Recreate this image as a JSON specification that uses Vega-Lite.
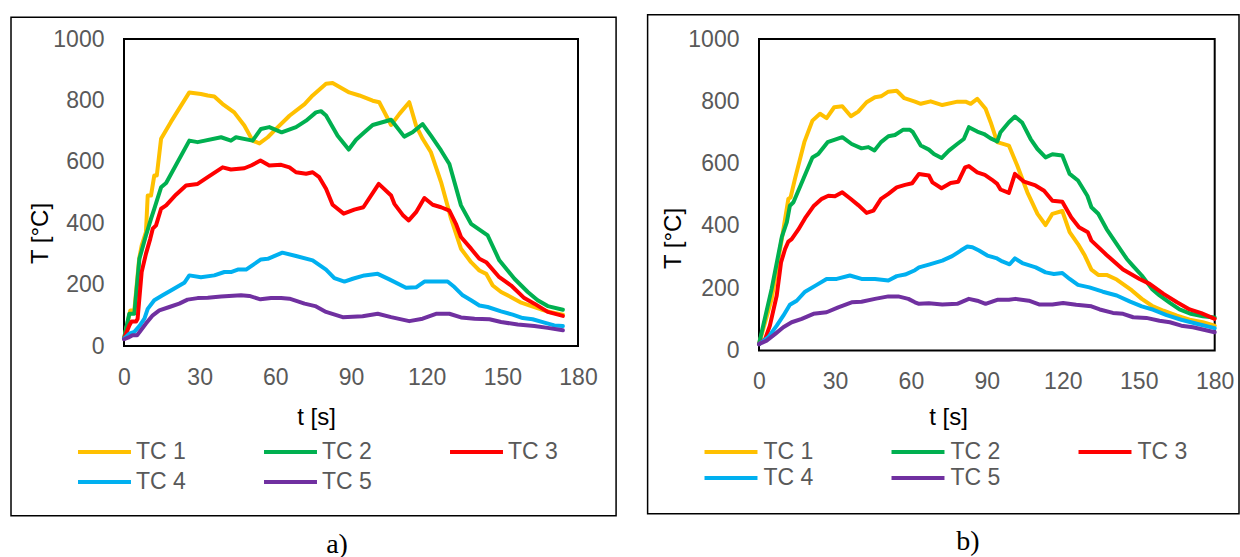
{
  "$schema": "https://vega.github.io/schema/vega-lite/v6.json",
  "background": "white",
  "padding": {"left": 9, "top": 12, "right": 0, "bottom": 0},
  "bounds": "flush",
  "spacing": 181,
  "config": {
    "font": "Liberation Sans",
    "view": {"stroke": "black", "strokeWidth": 2},
    "axis": {"grid": false, "domain": false, "ticks": false, "labelFlush": false, "labelOverlap": false, "format": "d", "labelFont": "Liberation Sans", "labelFontSize": 23, "labelColor": "#595959", "labelPadding": 20, "titleFont": "Liberation Sans", "titleFontSize": 24, "titleFontWeight": "normal", "titleColor": "black"},
    "legend": {"labelFont": "Liberation Sans", "labelFontSize": 23, "labelColor": "#595959", "symbolType": "M-2.5,0H2.5", "symbolSize": 449, "symbolStrokeWidth": 4, "padding": 0, "direction": "horizontal", "columns": 3},
    "title": {"font": "Liberation Serif", "fontSize": 28, "fontWeight": "normal", "color": "black"}
  },
  "datasets": {
    "a": [
      {"s":"TC 1","t":0,"T":24},{"s":"TC 1","t":2.5,"T":116},{"s":"TC 1","t":4.1,"T":116},{"s":"TC 1","t":6,"T":284},{"s":"TC 1","t":7,"T":327},{"s":"TC 1","t":8.7,"T":371},{"s":"TC 1","t":9.4,"T":490},{"s":"TC 1","t":10.7,"T":490},{"s":"TC 1","t":12,"T":555},{"s":"TC 1","t":13,"T":555},{"s":"TC 1","t":14.7,"T":675},{"s":"TC 1","t":18.6,"T":730},{"s":"TC 1","t":25.9,"T":826},{"s":"TC 1","t":30.5,"T":821},{"s":"TC 1","t":33.2,"T":816},{"s":"TC 1","t":35.8,"T":813},{"s":"TC 1","t":39,"T":789},{"s":"TC 1","t":43.7,"T":761},{"s":"TC 1","t":47.7,"T":718},{"s":"TC 1","t":51,"T":669},{"s":"TC 1","t":53.7,"T":660},{"s":"TC 1","t":57,"T":680},{"s":"TC 1","t":60.3,"T":707},{"s":"TC 1","t":65.6,"T":750},{"s":"TC 1","t":71.6,"T":788},{"s":"TC 1","t":74.8,"T":816},{"s":"TC 1","t":80.1,"T":854},{"s":"TC 1","t":82.7,"T":857},{"s":"TC 1","t":89.3,"T":826},{"s":"TC 1","t":93.3,"T":816},{"s":"TC 1","t":98.6,"T":799},{"s":"TC 1","t":101.2,"T":794},{"s":"TC 1","t":105.9,"T":720},{"s":"TC 1","t":109.2,"T":756},{"s":"TC 1","t":113.1,"T":794},{"s":"TC 1","t":115.8,"T":718},{"s":"TC 1","t":118.4,"T":675},{"s":"TC 1","t":121.7,"T":631},{"s":"TC 1","t":125.7,"T":534},{"s":"TC 1","t":129.7,"T":414},{"s":"TC 1","t":133.6,"T":317},{"s":"TC 1","t":137.6,"T":273},{"s":"TC 1","t":140.9,"T":246},{"s":"TC 1","t":143.6,"T":235},{"s":"TC 1","t":146.2,"T":197},{"s":"TC 1","t":149.5,"T":176},{"s":"TC 1","t":153.5,"T":159},{"s":"TC 1","t":157.5,"T":141},{"s":"TC 1","t":161.5,"T":130},{"s":"TC 1","t":165.4,"T":119},{"s":"TC 1","t":168.7,"T":111},{"s":"TC 1","t":174,"T":102},
      {"s":"TC 2","t":0,"T":24},{"s":"TC 2","t":2.1,"T":105},{"s":"TC 2","t":4.1,"T":105},{"s":"TC 2","t":6.1,"T":284},{"s":"TC 2","t":8.7,"T":360},{"s":"TC 2","t":10.7,"T":414},{"s":"TC 2","t":12,"T":447},{"s":"TC 2","t":14.7,"T":517},{"s":"TC 2","t":16.7,"T":531},{"s":"TC 2","t":25.9,"T":669},{"s":"TC 2","t":29.2,"T":664},{"s":"TC 2","t":38.5,"T":680},{"s":"TC 2","t":42.4,"T":669},{"s":"TC 2","t":44.4,"T":680},{"s":"TC 2","t":51,"T":669},{"s":"TC 2","t":54.3,"T":707},{"s":"TC 2","t":57.6,"T":713},{"s":"TC 2","t":62.5,"T":696},{"s":"TC 2","t":68.2,"T":713},{"s":"TC 2","t":72.2,"T":734},{"s":"TC 2","t":76.1,"T":761},{"s":"TC 2","t":78.1,"T":765},{"s":"TC 2","t":80.1,"T":751},{"s":"TC 2","t":84.7,"T":685},{"s":"TC 2","t":89.1,"T":640},{"s":"TC 2","t":92,"T":672},{"s":"TC 2","t":95.3,"T":696},{"s":"TC 2","t":98.6,"T":720},{"s":"TC 2","t":105.9,"T":737},{"s":"TC 2","t":111.1,"T":682},{"s":"TC 2","t":114.4,"T":696},{"s":"TC 2","t":118.4,"T":723},{"s":"TC 2","t":121.7,"T":685},{"s":"TC 2","t":125.7,"T":637},{"s":"TC 2","t":129,"T":593},{"s":"TC 2","t":133.6,"T":458},{"s":"TC 2","t":137.6,"T":398},{"s":"TC 2","t":144.2,"T":360},{"s":"TC 2","t":148.8,"T":279},{"s":"TC 2","t":154.8,"T":219},{"s":"TC 2","t":160.1,"T":176},{"s":"TC 2","t":164,"T":149},{"s":"TC 2","t":168,"T":130},{"s":"TC 2","t":174,"T":118},
      {"s":"TC 3","t":0,"T":24},{"s":"TC 3","t":2.1,"T":67},{"s":"TC 3","t":3,"T":80},{"s":"TC 3","t":4.8,"T":80},{"s":"TC 3","t":5.4,"T":89},{"s":"TC 3","t":7,"T":241},{"s":"TC 3","t":8.7,"T":300},{"s":"TC 3","t":10.4,"T":349},{"s":"TC 3","t":11.4,"T":382},{"s":"TC 3","t":12.7,"T":393},{"s":"TC 3","t":14.7,"T":447},{"s":"TC 3","t":16.7,"T":458},{"s":"TC 3","t":20.6,"T":493},{"s":"TC 3","t":24.6,"T":523},{"s":"TC 3","t":29.2,"T":528},{"s":"TC 3","t":33.2,"T":550},{"s":"TC 3","t":39.1,"T":582},{"s":"TC 3","t":42.4,"T":575},{"s":"TC 3","t":47.7,"T":579},{"s":"TC 3","t":50.4,"T":588},{"s":"TC 3","t":54.1,"T":604},{"s":"TC 3","t":57.6,"T":588},{"s":"TC 3","t":62.3,"T":590},{"s":"TC 3","t":65.6,"T":582},{"s":"TC 3","t":68.2,"T":566},{"s":"TC 3","t":72.2,"T":561},{"s":"TC 3","t":74.8,"T":566},{"s":"TC 3","t":77.4,"T":550},{"s":"TC 3","t":80.1,"T":512},{"s":"TC 3","t":82.7,"T":460},{"s":"TC 3","t":87.1,"T":431},{"s":"TC 3","t":91.3,"T":444},{"s":"TC 3","t":94.9,"T":452},{"s":"TC 3","t":101,"T":528},{"s":"TC 3","t":105.9,"T":490},{"s":"TC 3","t":107.2,"T":463},{"s":"TC 3","t":110.5,"T":427},{"s":"TC 3","t":112.9,"T":409},{"s":"TC 3","t":115.8,"T":436},{"s":"TC 3","t":119.1,"T":482},{"s":"TC 3","t":122.4,"T":460},{"s":"TC 3","t":125.7,"T":452},{"s":"TC 3","t":129,"T":441},{"s":"TC 3","t":131.6,"T":398},{"s":"TC 3","t":133.6,"T":355},{"s":"TC 3","t":137.6,"T":317},{"s":"TC 3","t":140.9,"T":284},{"s":"TC 3","t":143.6,"T":273},{"s":"TC 3","t":148.8,"T":224},{"s":"TC 3","t":153.5,"T":197},{"s":"TC 3","t":158.7,"T":156},{"s":"TC 3","t":162.7,"T":138},{"s":"TC 3","t":168,"T":111},{"s":"TC 3","t":174,"T":98},
      {"s":"TC 4","t":0,"T":24},{"s":"TC 4","t":2.1,"T":40},{"s":"TC 4","t":4.1,"T":46},{"s":"TC 4","t":6.1,"T":65},{"s":"TC 4","t":8.1,"T":89},{"s":"TC 4","t":9.4,"T":121},{"s":"TC 4","t":12,"T":149},{"s":"TC 4","t":15.3,"T":165},{"s":"TC 4","t":18.6,"T":181},{"s":"TC 4","t":23.9,"T":206},{"s":"TC 4","t":25.9,"T":230},{"s":"TC 4","t":30.5,"T":224},{"s":"TC 4","t":35.8,"T":230},{"s":"TC 4","t":39.8,"T":241},{"s":"TC 4","t":42.4,"T":241},{"s":"TC 4","t":45.1,"T":249},{"s":"TC 4","t":48.4,"T":249},{"s":"TC 4","t":54.3,"T":282},{"s":"TC 4","t":57,"T":284},{"s":"TC 4","t":62.8,"T":304},{"s":"TC 4","t":68.2,"T":293},{"s":"TC 4","t":74.8,"T":279},{"s":"TC 4","t":80.1,"T":249},{"s":"TC 4","t":83.4,"T":221},{"s":"TC 4","t":87.4,"T":210},{"s":"TC 4","t":90.7,"T":219},{"s":"TC 4","t":95.3,"T":230},{"s":"TC 4","t":100.6,"T":235},{"s":"TC 4","t":105.2,"T":217},{"s":"TC 4","t":111.8,"T":190},{"s":"TC 4","t":115.8,"T":191},{"s":"TC 4","t":119.1,"T":210},{"s":"TC 4","t":128.3,"T":210},{"s":"TC 4","t":131,"T":192},{"s":"TC 4","t":134.3,"T":165},{"s":"TC 4","t":137.6,"T":149},{"s":"TC 4","t":140.9,"T":132},{"s":"TC 4","t":144.2,"T":127},{"s":"TC 4","t":149.5,"T":113},{"s":"TC 4","t":154.1,"T":102},{"s":"TC 4","t":158.1,"T":91},{"s":"TC 4","t":162,"T":87},{"s":"TC 4","t":166.7,"T":76},{"s":"TC 4","t":170.6,"T":67},{"s":"TC 4","t":174,"T":65},
      {"s":"TC 5","t":0,"T":22},{"s":"TC 5","t":2.1,"T":29},{"s":"TC 5","t":3.4,"T":35},{"s":"TC 5","t":5.2,"T":35},{"s":"TC 5","t":6.7,"T":51},{"s":"TC 5","t":8.7,"T":73},{"s":"TC 5","t":11.4,"T":100},{"s":"TC 5","t":14,"T":116},{"s":"TC 5","t":18,"T":127},{"s":"TC 5","t":21.9,"T":138},{"s":"TC 5","t":25.2,"T":151},{"s":"TC 5","t":29.2,"T":156},{"s":"TC 5","t":33.2,"T":157},{"s":"TC 5","t":38.5,"T":161},{"s":"TC 5","t":46.4,"T":165},{"s":"TC 5","t":49.7,"T":163},{"s":"TC 5","t":54.1,"T":152},{"s":"TC 5","t":58.3,"T":156},{"s":"TC 5","t":62.3,"T":156},{"s":"TC 5","t":65.6,"T":154},{"s":"TC 5","t":71.6,"T":138},{"s":"TC 5","t":75.8,"T":130},{"s":"TC 5","t":80.1,"T":111},{"s":"TC 5","t":86.7,"T":94},{"s":"TC 5","t":94.6,"T":97},{"s":"TC 5","t":100.6,"T":105},{"s":"TC 5","t":105.9,"T":94},{"s":"TC 5","t":113.1,"T":81},{"s":"TC 5","t":118.4,"T":89},{"s":"TC 5","t":123.7,"T":105},{"s":"TC 5","t":129,"T":105},{"s":"TC 5","t":133.6,"T":93},{"s":"TC 5","t":139,"T":89},{"s":"TC 5","t":144.9,"T":87},{"s":"TC 5","t":149.5,"T":78},{"s":"TC 5","t":156.1,"T":70},{"s":"TC 5","t":162.7,"T":65},{"s":"TC 5","t":168,"T":59},{"s":"TC 5","t":174,"T":51}
    ],
    "b": [
      {"s":"TC 1","t":0,"T":21},{"s":"TC 1","t":5,"T":166},{"s":"TC 1","t":9,"T":358},{"s":"TC 1","t":11.6,"T":487},{"s":"TC 1","t":12.5,"T":492},{"s":"TC 1","t":14.2,"T":551},{"s":"TC 1","t":17.9,"T":669},{"s":"TC 1","t":21.1,"T":738},{"s":"TC 1","t":24.1,"T":760},{"s":"TC 1","t":26.7,"T":746},{"s":"TC 1","t":29.7,"T":781},{"s":"TC 1","t":32.9,"T":784},{"s":"TC 1","t":36.3,"T":752},{"s":"TC 1","t":39.2,"T":767},{"s":"TC 1","t":42.5,"T":797},{"s":"TC 1","t":45.8,"T":813},{"s":"TC 1","t":48.2,"T":816},{"s":"TC 1","t":51.1,"T":831},{"s":"TC 1","t":54.4,"T":834},{"s":"TC 1","t":57.4,"T":810},{"s":"TC 1","t":61.6,"T":799},{"s":"TC 1","t":63.9,"T":792},{"s":"TC 1","t":67.8,"T":800},{"s":"TC 1","t":72.4,"T":788},{"s":"TC 1","t":78.4,"T":799},{"s":"TC 1","t":81.6,"T":799},{"s":"TC 1","t":83.6,"T":792},{"s":"TC 1","t":86.2,"T":808},{"s":"TC 1","t":89.5,"T":776},{"s":"TC 1","t":91.5,"T":733},{"s":"TC 1","t":94.1,"T":669},{"s":"TC 1","t":98.7,"T":658},{"s":"TC 1","t":102,"T":594},{"s":"TC 1","t":106,"T":508},{"s":"TC 1","t":110,"T":439},{"s":"TC 1","t":113.2,"T":403},{"s":"TC 1","t":115.9,"T":439},{"s":"TC 1","t":119.8,"T":448},{"s":"TC 1","t":122.7,"T":380},{"s":"TC 1","t":126,"T":342},{"s":"TC 1","t":128.7,"T":305},{"s":"TC 1","t":131.3,"T":260},{"s":"TC 1","t":134,"T":243},{"s":"TC 1","t":137.3,"T":243},{"s":"TC 1","t":141.3,"T":228},{"s":"TC 1","t":147.3,"T":193},{"s":"TC 1","t":151.2,"T":166},{"s":"TC 1","t":155.2,"T":144},{"s":"TC 1","t":159.8,"T":128},{"s":"TC 1","t":165.1,"T":112},{"s":"TC 1","t":170.1,"T":99},{"s":"TC 1","t":175.3,"T":91},{"s":"TC 1","t":180,"T":80},
      {"s":"TC 2","t":0,"T":21},{"s":"TC 2","t":5,"T":198},{"s":"TC 2","t":9,"T":364},{"s":"TC 2","t":11,"T":412},{"s":"TC 2","t":12.2,"T":465},{"s":"TC 2","t":13.6,"T":476},{"s":"TC 2","t":17.5,"T":551},{"s":"TC 2","t":21.1,"T":620},{"s":"TC 2","t":23.4,"T":631},{"s":"TC 2","t":27.1,"T":669},{"s":"TC 2","t":30,"T":677},{"s":"TC 2","t":32.9,"T":685},{"s":"TC 2","t":36.6,"T":663},{"s":"TC 2","t":40.5,"T":649},{"s":"TC 2","t":43.2,"T":653},{"s":"TC 2","t":45.6,"T":642},{"s":"TC 2","t":48.2,"T":669},{"s":"TC 2","t":51.1,"T":688},{"s":"TC 2","t":53.7,"T":692},{"s":"TC 2","t":57,"T":709},{"s":"TC 2","t":59.6,"T":709},{"s":"TC 2","t":60.8,"T":701},{"s":"TC 2","t":63.9,"T":658},{"s":"TC 2","t":67.1,"T":645},{"s":"TC 2","t":69.1,"T":631},{"s":"TC 2","t":72.1,"T":618},{"s":"TC 2","t":75,"T":642},{"s":"TC 2","t":78.3,"T":663},{"s":"TC 2","t":80.9,"T":679},{"s":"TC 2","t":82.9,"T":717},{"s":"TC 2","t":86.2,"T":703},{"s":"TC 2","t":88.9,"T":695},{"s":"TC 2","t":91.5,"T":681},{"s":"TC 2","t":94.1,"T":671},{"s":"TC 2","t":95.4,"T":701},{"s":"TC 2","t":98.7,"T":733},{"s":"TC 2","t":101.1,"T":751},{"s":"TC 2","t":104,"T":731},{"s":"TC 2","t":107.3,"T":679},{"s":"TC 2","t":110,"T":647},{"s":"TC 2","t":113.2,"T":620},{"s":"TC 2","t":115.9,"T":630},{"s":"TC 2","t":119.8,"T":626},{"s":"TC 2","t":122.7,"T":567},{"s":"TC 2","t":126,"T":546},{"s":"TC 2","t":129.7,"T":497},{"s":"TC 2","t":131.3,"T":460},{"s":"TC 2","t":134,"T":439},{"s":"TC 2","t":137.3,"T":390},{"s":"TC 2","t":141.3,"T":342},{"s":"TC 2","t":145.3,"T":294},{"s":"TC 2","t":147.8,"T":271},{"s":"TC 2","t":151.2,"T":241},{"s":"TC 2","t":155.2,"T":198},{"s":"TC 2","t":158.2,"T":177},{"s":"TC 2","t":162.3,"T":153},{"s":"TC 2","t":166.1,"T":132},{"s":"TC 2","t":170.6,"T":118},{"s":"TC 2","t":175.3,"T":110},{"s":"TC 2","t":180,"T":106},
      {"s":"TC 3","t":0,"T":21},{"s":"TC 3","t":2.4,"T":37},{"s":"TC 3","t":4.3,"T":80},{"s":"TC 3","t":7,"T":177},{"s":"TC 3","t":8.7,"T":283},{"s":"TC 3","t":10.3,"T":326},{"s":"TC 3","t":11.6,"T":350},{"s":"TC 3","t":12.9,"T":358},{"s":"TC 3","t":15.5,"T":388},{"s":"TC 3","t":18.2,"T":425},{"s":"TC 3","t":21.5,"T":463},{"s":"TC 3","t":24.8,"T":487},{"s":"TC 3","t":27.4,"T":497},{"s":"TC 3","t":30,"T":495},{"s":"TC 3","t":32.9,"T":508},{"s":"TC 3","t":35.9,"T":489},{"s":"TC 3","t":39.2,"T":467},{"s":"TC 3","t":42.5,"T":442},{"s":"TC 3","t":45.2,"T":449},{"s":"TC 3","t":48.2,"T":487},{"s":"TC 3","t":51.1,"T":503},{"s":"TC 3","t":54.4,"T":524},{"s":"TC 3","t":57.7,"T":532},{"s":"TC 3","t":60.5,"T":537},{"s":"TC 3","t":63.2,"T":567},{"s":"TC 3","t":67.1,"T":562},{"s":"TC 3","t":68.5,"T":540},{"s":"TC 3","t":72.1,"T":521},{"s":"TC 3","t":75.7,"T":538},{"s":"TC 3","t":78.7,"T":542},{"s":"TC 3","t":81.4,"T":588},{"s":"TC 3","t":82.9,"T":592},{"s":"TC 3","t":86.2,"T":572},{"s":"TC 3","t":89.2,"T":564},{"s":"TC 3","t":91.9,"T":549},{"s":"TC 3","t":94.1,"T":535},{"s":"TC 3","t":95.4,"T":517},{"s":"TC 3","t":98.7,"T":506},{"s":"TC 3","t":101.1,"T":567},{"s":"TC 3","t":104.7,"T":542},{"s":"TC 3","t":109.2,"T":530},{"s":"TC 3","t":112.6,"T":513},{"s":"TC 3","t":115.9,"T":481},{"s":"TC 3","t":119.8,"T":478},{"s":"TC 3","t":123.3,"T":428},{"s":"TC 3","t":126.4,"T":396},{"s":"TC 3","t":129.9,"T":380},{"s":"TC 3","t":131.3,"T":353},{"s":"TC 3","t":137.3,"T":307},{"s":"TC 3","t":143.8,"T":260},{"s":"TC 3","t":150.3,"T":230},{"s":"TC 3","t":154.3,"T":214},{"s":"TC 3","t":159.8,"T":182},{"s":"TC 3","t":165.1,"T":155},{"s":"TC 3","t":170.1,"T":132},{"s":"TC 3","t":174.7,"T":120},{"s":"TC 3","t":180,"T":102},
      {"s":"TC 4","t":0,"T":21},{"s":"TC 4","t":3.7,"T":43},{"s":"TC 4","t":7,"T":80},{"s":"TC 4","t":9.6,"T":112},{"s":"TC 4","t":12.2,"T":147},{"s":"TC 4","t":14.9,"T":160},{"s":"TC 4","t":18.2,"T":189},{"s":"TC 4","t":22.8,"T":211},{"s":"TC 4","t":26.7,"T":230},{"s":"TC 4","t":30.7,"T":230},{"s":"TC 4","t":35.9,"T":241},{"s":"TC 4","t":40.5,"T":230},{"s":"TC 4","t":45.8,"T":230},{"s":"TC 4","t":51.1,"T":225},{"s":"TC 4","t":54.4,"T":239},{"s":"TC 4","t":57.7,"T":244},{"s":"TC 4","t":61.6,"T":258},{"s":"TC 4","t":63.2,"T":267},{"s":"TC 4","t":67.1,"T":276},{"s":"TC 4","t":72.4,"T":289},{"s":"TC 4","t":76.3,"T":303},{"s":"TC 4","t":79.7,"T":321},{"s":"TC 4","t":82.3,"T":334},{"s":"TC 4","t":84.3,"T":332},{"s":"TC 4","t":86.9,"T":321},{"s":"TC 4","t":90.2,"T":305},{"s":"TC 4","t":93.7,"T":297},{"s":"TC 4","t":96.1,"T":286},{"s":"TC 4","t":99,"T":277},{"s":"TC 4","t":101.1,"T":296},{"s":"TC 4","t":104,"T":281},{"s":"TC 4","t":109.3,"T":267},{"s":"TC 4","t":113.2,"T":251},{"s":"TC 4","t":116.5,"T":246},{"s":"TC 4","t":119.8,"T":249},{"s":"TC 4","t":122.7,"T":230},{"s":"TC 4","t":126,"T":211},{"s":"TC 4","t":130.5,"T":203},{"s":"TC 4","t":135.8,"T":189},{"s":"TC 4","t":141.3,"T":177},{"s":"TC 4","t":146.6,"T":157},{"s":"TC 4","t":151.2,"T":142},{"s":"TC 4","t":155.8,"T":131},{"s":"TC 4","t":161,"T":114},{"s":"TC 4","t":166.8,"T":99},{"s":"TC 4","t":172.9,"T":86},{"s":"TC 4","t":180,"T":72},
      {"s":"TC 5","t":0,"T":21},{"s":"TC 5","t":3,"T":32},{"s":"TC 5","t":6.3,"T":53},{"s":"TC 5","t":9.6,"T":75},{"s":"TC 5","t":12.9,"T":91},{"s":"TC 5","t":16.9,"T":102},{"s":"TC 5","t":21.5,"T":118},{"s":"TC 5","t":26.7,"T":123},{"s":"TC 5","t":31.3,"T":139},{"s":"TC 5","t":36.6,"T":155},{"s":"TC 5","t":40.5,"T":157},{"s":"TC 5","t":45.8,"T":166},{"s":"TC 5","t":51.1,"T":174},{"s":"TC 5","t":55,"T":174},{"s":"TC 5","t":59,"T":166},{"s":"TC 5","t":61.6,"T":155},{"s":"TC 5","t":63.2,"T":150},{"s":"TC 5","t":67.1,"T":152},{"s":"TC 5","t":72.4,"T":148},{"s":"TC 5","t":78.3,"T":150},{"s":"TC 5","t":82.9,"T":166},{"s":"TC 5","t":86.2,"T":160},{"s":"TC 5","t":89.5,"T":150},{"s":"TC 5","t":94.1,"T":163},{"s":"TC 5","t":98.7,"T":163},{"s":"TC 5","t":101.3,"T":166},{"s":"TC 5","t":106.6,"T":160},{"s":"TC 5","t":110.6,"T":148},{"s":"TC 5","t":115.9,"T":148},{"s":"TC 5","t":120.1,"T":153},{"s":"TC 5","t":125.3,"T":147},{"s":"TC 5","t":131.3,"T":142},{"s":"TC 5","t":134.6,"T":132},{"s":"TC 5","t":139.8,"T":121},{"s":"TC 5","t":143.8,"T":118},{"s":"TC 5","t":147.8,"T":107},{"s":"TC 5","t":153,"T":105},{"s":"TC 5","t":158.2,"T":96},{"s":"TC 5","t":162.3,"T":91},{"s":"TC 5","t":166.8,"T":80},{"s":"TC 5","t":171.4,"T":75},{"s":"TC 5","t":180,"T":59}
    ]
  },
  "hconcat": [
    {
      "width": 454,
      "height": 307,
      "title": {"text": "a)", "orient": "bottom", "anchor": "middle", "frame": "group", "offset": 14, "dx": -14},
      "layer": [
        {
          "data": {"name": "a"},
          "mark": {"type": "line", "strokeWidth": 4, "strokeJoin": "round", "strokeCap": "round"},
          "encoding": {
            "x": {"field": "t", "type": "quantitative", "scale": {"domain": [0, 180], "nice": false}, "axis": {"values": [0, 30, 60, 90, 120, 150, 180], "title": "t [s]", "titleX": 192, "titleY": 59.5}},
            "y": {"field": "T", "type": "quantitative", "scale": {"domain": [0, 1000], "nice": false}, "axis": {"values": [0, 200, 400, 600, 800, 1000], "title": "T [°C]", "titleX": -76.5, "titleY": 194, "titleBaseline": "alphabetic"}},
            "color": {"field": "s", "type": "nominal", "scale": {"domain": ["TC 1", "TC 2", "TC 3", "TC 4", "TC 5"], "range": ["#FFC000", "#00B050", "#FF0000", "#00B0F0", "#7030A0"]}, "legend": {"title": null, "orient": "none", "legendX": -32.5, "legendY": 400, "labelOffset": 18.5, "columnPadding": 69, "rowPadding": 5}}
          }
        },
        {
          "data": {"values": [{}]},
          "mark": {"type": "rect", "filled": false, "color": "black", "strokeWidth": 1.5, "clip": false},
          "encoding": {
            "x": {"datum": -44.8, "type": "quantitative", "scale": {"domain": [0, 180], "nice": false}},
            "x2": {"datum": 195.1},
            "y": {"datum": 1070.6, "type": "quantitative", "scale": {"domain": [0, 1000], "nice": false}},
            "y2": {"datum": -553.2}
          }
        }
      ]
    },
    {
      "width": 455.7,
      "height": 311.6,
      "title": {"text": "b)", "orient": "bottom", "anchor": "middle", "frame": "group", "offset": 13, "dx": -19},
      "layer": [
        {
          "data": {"name": "b"},
          "mark": {"type": "line", "strokeWidth": 4, "strokeJoin": "round", "strokeCap": "round"},
          "encoding": {
            "x": {"field": "t", "type": "quantitative", "scale": {"domain": [0, 180], "nice": false}, "axis": {"values": [0, 30, 60, 90, 120, 150, 180], "title": "t [s]", "titleX": 189, "titleY": 55.2}},
            "y": {"field": "T", "type": "quantitative", "scale": {"domain": [0, 1000], "nice": false}, "axis": {"values": [0, 200, 400, 600, 800, 1000], "title": "T [°C]", "titleX": -78.7, "titleY": 199, "titleBaseline": "alphabetic"}},
            "color": {"field": "s", "type": "nominal", "scale": {"domain": ["TC 1", "TC 2", "TC 3", "TC 4", "TC 5"], "range": ["#FFC000", "#00B050", "#FF0000", "#00B0F0", "#7030A0"]}, "legend": {"title": null, "orient": "none", "legendX": -41, "legendY": 400, "labelOffset": 19.5, "columnPadding": 69, "rowPadding": 1}}
          }
        },
        {
          "data": {"values": [{}]},
          "mark": {"type": "rect", "filled": false, "color": "black", "strokeWidth": 1.5, "clip": false},
          "encoding": {
            "x": {"datum": -44.0, "type": "quantitative", "scale": {"domain": [0, 180], "nice": false}},
            "x2": {"datum": 189.6},
            "y": {"datum": 1078, "type": "quantitative", "scale": {"domain": [0, 1000], "nice": false}},
            "y2": {"datum": -523.7}
          }
        }
      ]
    }
  ],
  "resolve": {"legend": {"color": "independent"}}
}
